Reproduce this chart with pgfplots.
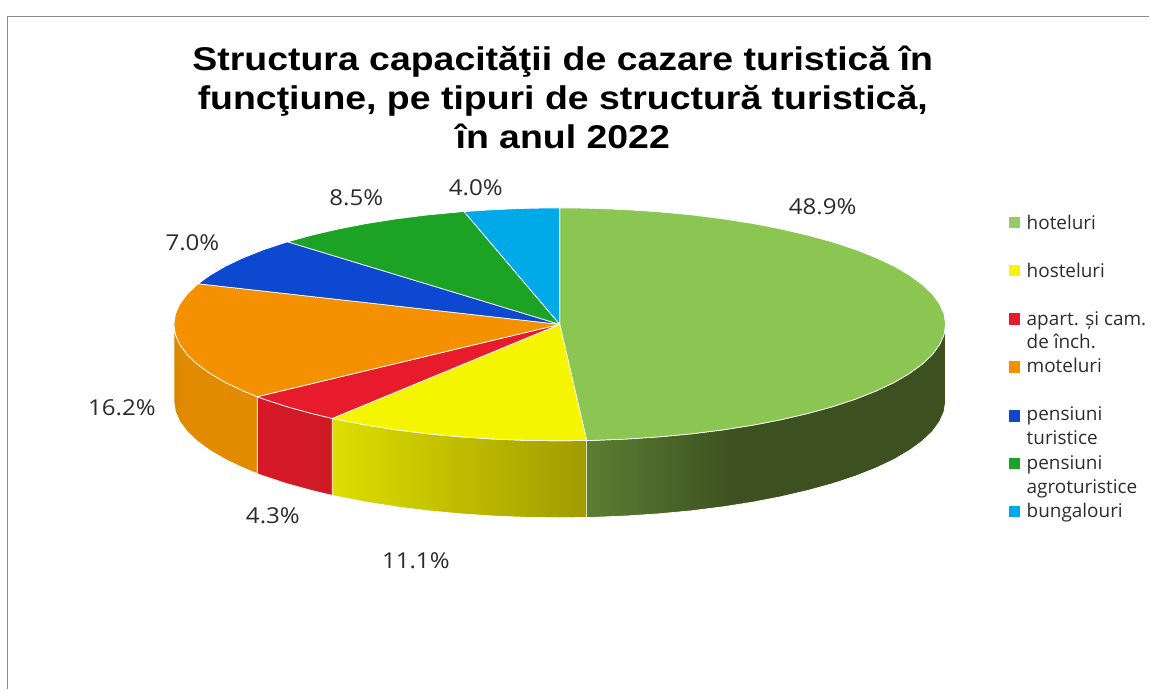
\documentclass[border=0pt]{standalone}
\usepackage{fontspec}
\setmainfont{Open Sans}
\newfontfamily\titlefont{Liberation Sans}[BoldFont={Liberation Sans Bold}]
\usepackage{pgfplots}
\pgfplotsset{compat=1.18}
\definecolor{cHotel}{HTML}{8AC651}
\definecolor{cHostel}{HTML}{F5F500}
\definecolor{cApart}{HTML}{E81B2C}
\definecolor{cMotel}{HTML}{F59100}
\definecolor{cPens}{HTML}{0C48D0}
\definecolor{cAgro}{HTML}{1CA225}
\definecolor{cBung}{HTML}{00A9E8}
\definecolor{wHotelA}{HTML}{5C7E33}
\definecolor{wHotelB}{HTML}{3C5020}
\definecolor{wHostelA}{HTML}{DEDE00}
\definecolor{wHostelB}{HTML}{A09B00}
\definecolor{wApartA}{HTML}{D61926}
\definecolor{wApartB}{HTML}{CE1A25}
\definecolor{wMotelA}{HTML}{D98700}
\definecolor{wMotelB}{HTML}{E38B00}
\definecolor{frame}{HTML}{8C8C8C}
\definecolor{txt}{HTML}{2C2C2C}
\pgfdeclarehorizontalshading{wallHotel}{100bp}{color(0bp)=(wHotelA); color(25bp)=(wHotelA); color(46bp)=(wHotelB); color(100bp)=(wHotelB)}
\pgfdeclarehorizontalshading{wallHostel}{100bp}{color(0bp)=(wHostelA); color(25bp)=(wHostelA); color(75bp)=(wHostelB); color(100bp)=(wHostelB)}
\pgfdeclarehorizontalshading{wallApart}{100bp}{color(0bp)=(wApartA); color(25bp)=(wApartA); color(75bp)=(wApartB); color(100bp)=(wApartB)}
\pgfdeclarehorizontalshading{wallMotel}{100bp}{color(0bp)=(wMotelA); color(25bp)=(wMotelA); color(32bp)=(wMotelB); color(100bp)=(wMotelB)}
\newcommand{\lab}[3]{\node[anchor=base,text=txt,inner sep=0pt,font=\fontsize{22}{26}\selectfont] at (axis cs:#1,#2) {\scalebox{1.1}[1]{#3}};}
\newcommand{\leg}[2]{\node[anchor=base west,text=txt,inner sep=0pt,font=\fontsize{19}{23}\selectfont] at (axis cs:1027,#1) {#2};}
\newcommand{\ttl}[2]{\node[anchor=base,text=black,inner sep=0pt,font=\titlefont\bfseries\fontsize{33}{40}\selectfont] at (axis cs:563,#1) {\scalebox{1.139}[1]{#2}};}
\begin{document}
\begin{tikzpicture}
\begin{axis}[
    width=1150bp, height=689bp, scale only axis,
    xmin=0, xmax=1150, ymin=0, ymax=689,
    y dir=reverse, hide axis, clip=false,
    every axis plot/.append style={mark=none},
]
% frame of the chart area
\addplot[frame, line width=1.1pt] coordinates {(7.7,689) (7.7,16.3) (1150,16.3)};

% side walls, top arc then bottom arc back (depth 77)
\addplot[shading=wallHotel, draw=white, line width=0.7pt] coordinates {
    (946,324.5) (944.5,334.7) (940.1,344.7) (932.8,354.7) (922.7,364.3) (909.8,373.7)
    (894.3,382.75) (876.2,391.3) (855.7,399.4) (832.9,406.9) (808.1,413.7) (781.4,419.9)
    (753,425.4) (723.1,430.1) (692,434) (659.9,437) (627,439.2) (593.6,440.6) (586.9,440.7)
    (586.9,517.7) (593.6,517.6) (627,516.2) (659.9,514) (692,511) (723.1,507.1) (753,502.4)
    (781.4,496.9) (808.1,490.7) (832.9,483.9) (855.7,476.4) (876.2,468.3) (894.3,459.75)
    (909.8,450.7) (922.7,441.3) (932.8,431.7) (940.1,421.7) (944.5,411.7) (946,401.5)
    (946,324.5)
};
\addplot[shading=wallHostel, draw=white, line width=0.7pt] coordinates {
    (586.9,440.7) (560,441) (526.4,440.6) (493,439.2) (460.1,437) (428,434) (396.9,430.1)
    (367,425.4) (338.6,419.9) (332.3,418.6)
    (332.3,495.6) (338.6,496.9) (367,502.4) (396.9,507.1) (428,511) (460.1,514) (493,516.2)
    (526.4,517.6) (560,518) (586.9,517.7) (586.9,440.7)
};
\addplot[shading=wallApart, draw=white, line width=0.7pt] coordinates {
    (332.3,418.6) (311.9,413.7) (287.1,406.9) (264.3,399.4) (257.4,396.9)
    (257.4,473.9) (264.3,476.4) (287.1,483.9) (311.9,490.7) (332.3,495.6) (332.3,418.6)
};
\addplot[shading=wallMotel, draw=white, line width=0.7pt] coordinates {
    (257.4,396.9) (243.8,391.3) (225.7,382.75) (210.2,373.7) (197.3,364.3) (187.2,354.7)
    (179.9,344.7) (175.5,334.7) (174,324.5)
    (174,401.5) (175.5,411.7) (179.9,421.7) (187.2,431.7) (197.3,441.3) (210.2,450.7)
    (225.7,459.75) (243.8,468.3) (257.4,473.9) (257.4,396.9)
};

% top slices
\addplot[fill=cHotel, draw=white, line width=0.7pt] coordinates {
    (560,324.5) (560,208) (593.6,208.4) (627,209.8) (659.9,212) (692,215) (723.1,218.9)
    (753,223.6) (781.4,229.1) (808.1,235.3) (832.9,242.1) (855.7,249.6) (876.2,257.7)
    (894.3,266.25) (909.8,275.3) (922.7,284.7) (932.8,294.3) (940.1,304.3) (944.5,314.3)
    (946,324.5) (944.5,334.7) (940.1,344.7) (932.8,354.7) (922.7,364.3) (909.8,373.7)
    (894.3,382.75) (876.2,391.3) (855.7,399.4) (832.9,406.9) (808.1,413.7) (781.4,419.9)
    (753,425.4) (723.1,430.1) (692,434) (659.9,437) (627,439.2) (593.6,440.6) (586.9,440.7)
    (560,324.5)
};
\addplot[fill=cHostel, draw=white, line width=0.7pt] coordinates {
    (560,324.5) (586.9,440.7) (560,441) (526.4,440.6) (493,439.2) (460.1,437) (428,434)
    (396.9,430.1) (367,425.4) (338.6,419.9) (332.3,418.6) (560,324.5)
};
\addplot[fill=cApart, draw=white, line width=0.7pt] coordinates {
    (560,324.5) (332.3,418.6) (311.9,413.7) (287.1,406.9) (264.3,399.4) (257.4,396.9) (560,324.5)
};
\addplot[fill=cMotel, draw=white, line width=0.7pt] coordinates {
    (560,324.5) (257.4,396.9) (243.8,391.3) (225.7,382.75) (210.2,373.7) (197.3,364.3)
    (187.2,354.7) (179.9,344.7) (175.5,334.7) (174,324.5) (175.5,314.3) (179.9,304.3)
    (187.2,294.3) (197.3,284.7) (198.3,283.9) (560,324.5)
};
\addplot[fill=cPens, draw=white, line width=0.7pt] coordinates {
    (560,324.5) (198.3,283.9) (210.2,275.3) (225.7,266.25) (243.8,257.7) (264.3,249.6)
    (287.7,241.9) (560,324.5)
};
\addplot[fill=cAgro, draw=white, line width=0.7pt] coordinates {
    (560,324.5) (287.7,241.9) (311.9,235.3) (338.6,229.1) (367,223.6) (396.9,218.9)
    (428,215) (460.1,212) (464.3,211.7) (560,324.5)
};
\addplot[fill=cBung, draw=white, line width=0.7pt] coordinates {
    (560,324.5) (464.3,211.7) (493,209.8) (526.4,208.4) (560,208) (560,324.5)
};

% legend keys
\addplot[only marks, mark=square*, mark size=5.2bp, color=cHotel!90!white] coordinates {(1014.7,222.3)};
\addplot[only marks, mark=square*, mark size=5.2bp, color=yellow] coordinates {(1014.7,270.3)};
\addplot[only marks, mark=square*, mark size=5.2bp, color=cApart] coordinates {(1014.7,318.7)};
\addplot[only marks, mark=square*, mark size=5.2bp, color=cMotel] coordinates {(1014.7,366.7)};
\addplot[only marks, mark=square*, mark size=5.2bp, color=cPens] coordinates {(1014.7,415.7)};
\addplot[only marks, mark=square*, mark size=5.2bp, color=cAgro] coordinates {(1014.7,463.3)};
\addplot[only marks, mark=square*, mark size=5.2bp, color=cBung] coordinates {(1014.7,511.7)};

\ttl{71}{Structura capacităţii de cazare turistică în}
\ttl{110}{funcţiune, pe tipuri de structură turistică,}
\ttl{148.5}{în anul 2022}

\lab{823}{214.5}{48.9\%}
\lab{356.5}{206}{8.5\%}
\lab{476}{195.5}{4.0\%}
\lab{192.5}{251}{7.0\%}
\lab{122}{416}{16.2\%}
\lab{273}{523.3}{4.3\%}
\lab{416}{569}{11.1\%}

\leg{229.7}{hoteluri}
\leg{277.4}{hosteluri}
\leg{325.7}{apart. și cam.}
\leg{349}{de înch.}
\leg{373}{moteluri}
\leg{420.7}{pensiuni}
\leg{445}{turistice}
\leg{470}{pensiuni}
\leg{493.4}{agroturistice}
\leg{518}{bungalouri}
\end{axis}
\path[use as bounding box] (0,0) rectangle (1150bp,689bp);
\end{tikzpicture}
\end{document}
